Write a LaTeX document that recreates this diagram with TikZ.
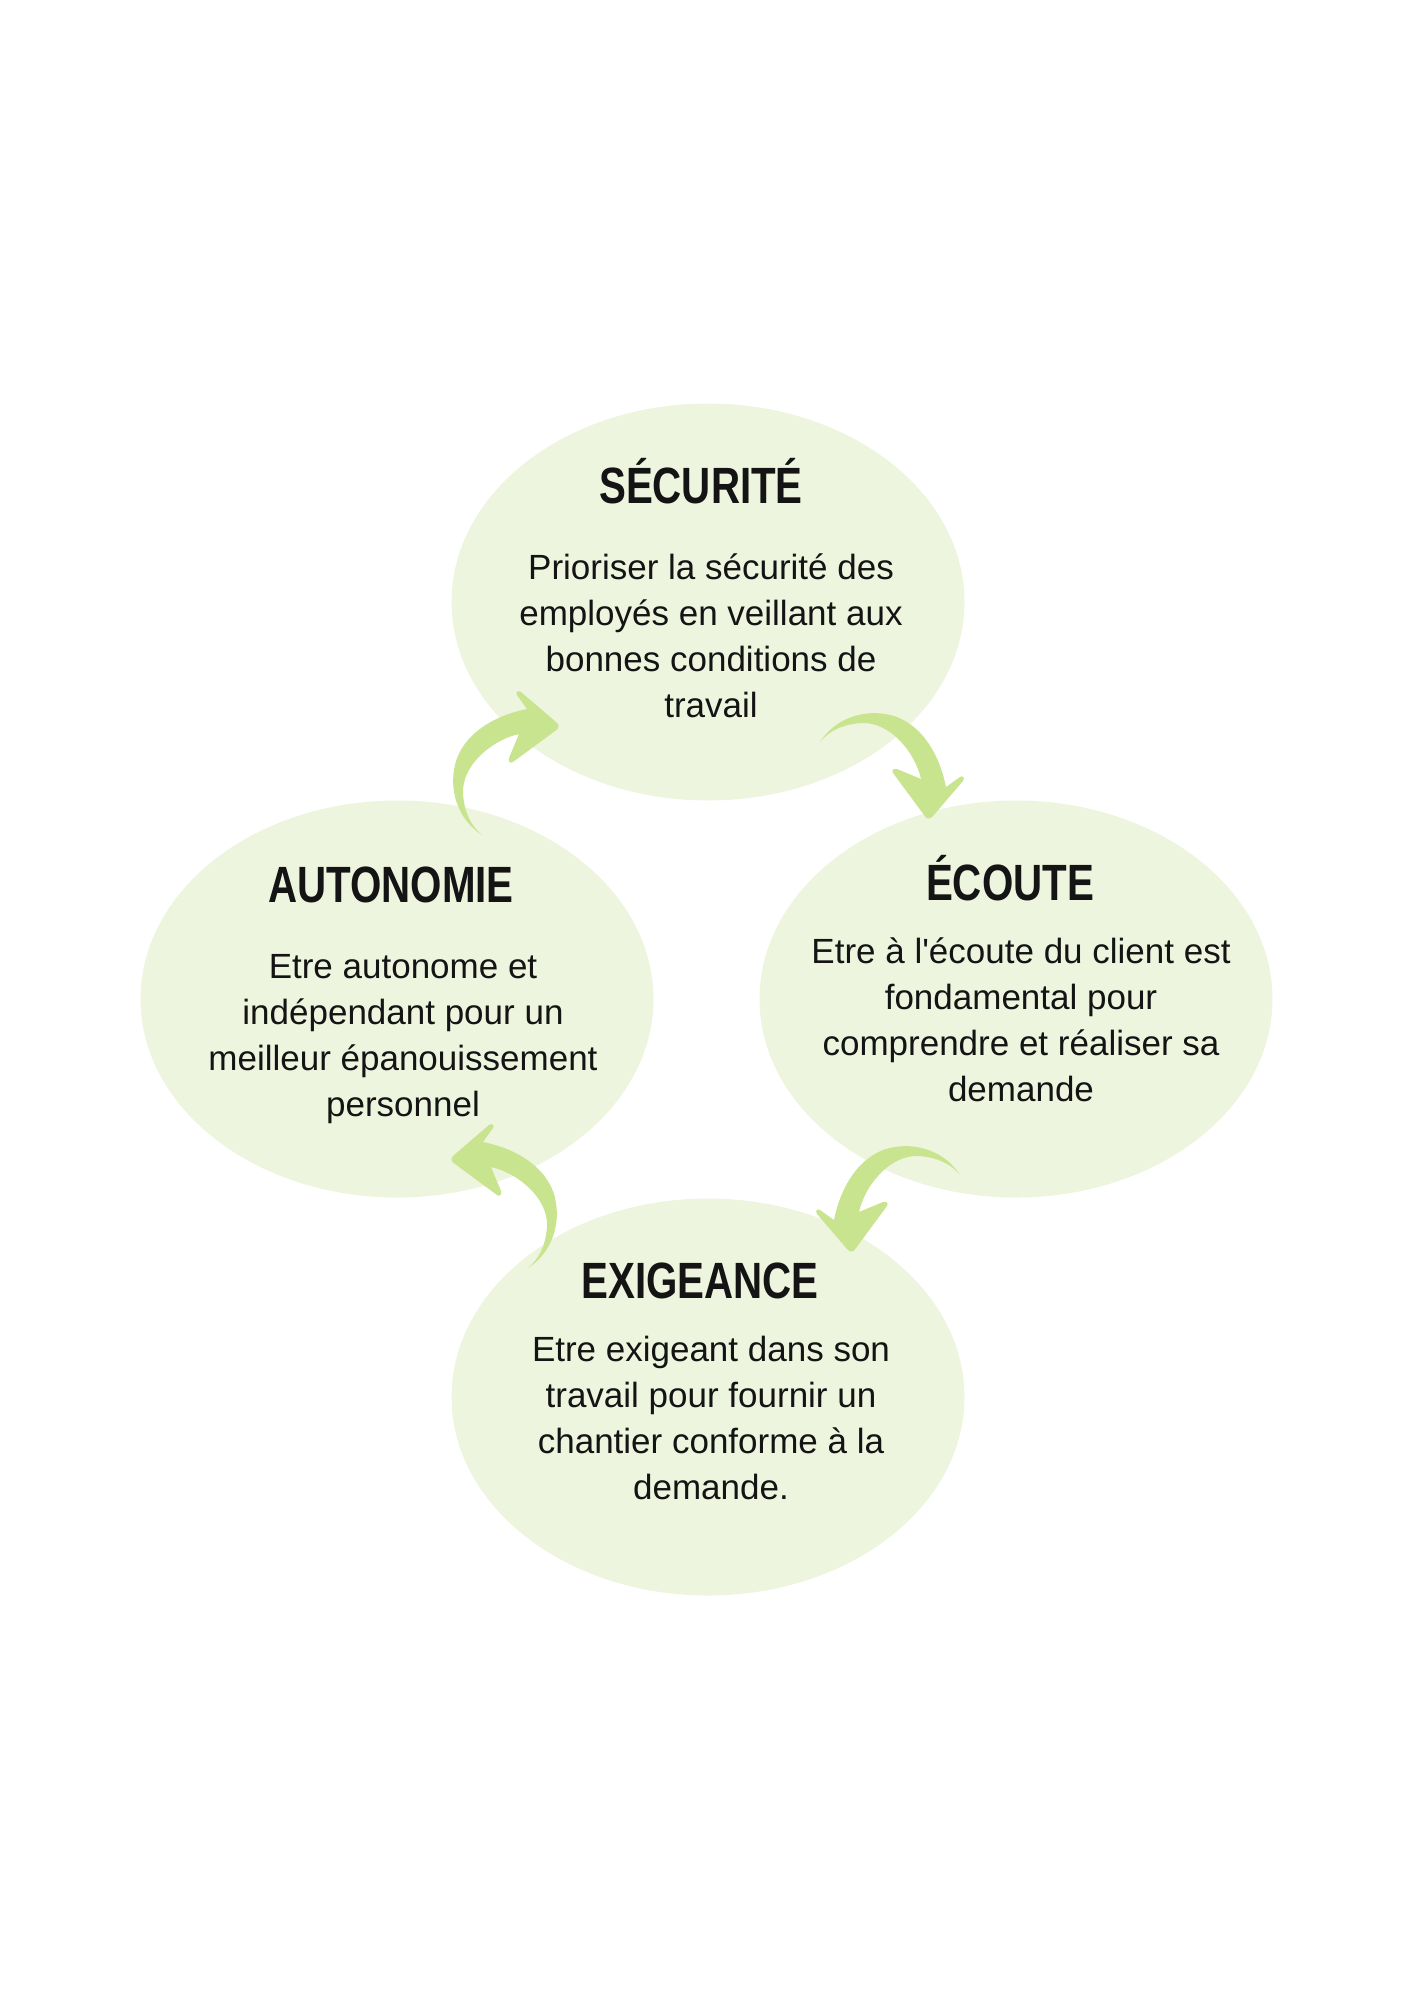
\documentclass[tikz,border=0pt]{standalone}
\usepackage{fontspec}
\setmainfont{Liberation Sans}
\newfontfamily\titlefont{Liberation Sans}[FakeStretch=0.79]
\usetikzlibrary{shapes.geometric}
\definecolor{blobfill}{HTML}{EEF5DF}
\definecolor{arrowc}{HTML}{C9E48F}
\definecolor{ink}{HTML}{141414}
\tikzset{
  blob/.style={ellipse, fill=blobfill, draw=none, minimum width=256.5pt, minimum height=198.5pt, inner sep=0pt},
  ttl/.style={anchor=base, text=ink, inner sep=0pt, font=\titlefont\bfseries\fontsize{25.5pt}{30pt}\selectfont},
  body/.style={anchor=center, text=ink, align=center, inner sep=0pt, font=\fontsize{17.5pt}{23pt}\selectfont},
  bigarrow/.pic={
    \fill[arrowc] (0,0) .. controls (-22,-14) and (-32,-40) .. (-28,-65)
      .. controls (-24,-95) and (5,-118) .. (45,-126)
      -- (35,-140) .. controls (33,-143) and (36,-145) .. (39,-143)
      -- (74,-113) .. controls (78,-110) and (77,-106) .. (73,-104)
      -- (31,-73) .. controls (28,-71) and (26,-74) .. (27,-77)
      -- (37,-101) .. controls (10,-95) and (-20,-70) .. (-19,-42)
      .. controls (-18,-22) and (-10,-8) .. (0,0) -- cycle;
  }
}
\begin{document}
\begin{tikzpicture}[x=0.5pt, y=-0.5pt]
\useasboundingbox (0,0) rectangle (1414,2000);
% ellipses
\node[blob] (secu) at (708,602) {};
\node[blob] (ecou) at (1016,999) {};
\node[blob] (auto) at (397,999) {};
\node[blob] (exig) at (708,1397) {};
% titles
\node[ttl] (secuT) at (701,503) {SÉCURITÉ};
\node[ttl] (ecouT) at (1010,900) {ÉCOUTE};
\node[ttl] (autoT) at (391,902) {AUTONOMIE};
\node[ttl] (exigT) at (700,1298) {EXIGEANCE};
% bodies
\node[body] (secuB) at (711,635.5) {Prioriser la sécurité des\\employés en veillant aux\\bonnes conditions de\\travail};
\node[body] (ecouB) at (1021,1019.5) {Etre à l\textquotesingle écoute du client est\\fondamental pour\\comprendre et réaliser sa\\demande};
\node[body] (autoB) at (403,1039) {Etre autonome et\\indépendant pour un\\meilleur épanouissement\\personnel};
\node[body] (exigB) at (711,1417.5) {Etre exigeant dans son\\travail pour fournir un\\chantier conforme à la\\demande.};
% arrows
\begin{scope}[shift={(482,835)}]
  \pic[transform shape] {bigarrow};
\end{scope}
\begin{scope}[shift={(820,742)}, rotate=-90]
  \pic[transform shape] {bigarrow};
\end{scope}
\begin{scope}[shift={(960,1175)}, xscale=-1, rotate=-90]
  \pic[transform shape] {bigarrow};
\end{scope}
\begin{scope}[shift={(528,1268)}, xscale=-1]
  \pic[transform shape] {bigarrow};
\end{scope}
\end{tikzpicture}
\end{document}
